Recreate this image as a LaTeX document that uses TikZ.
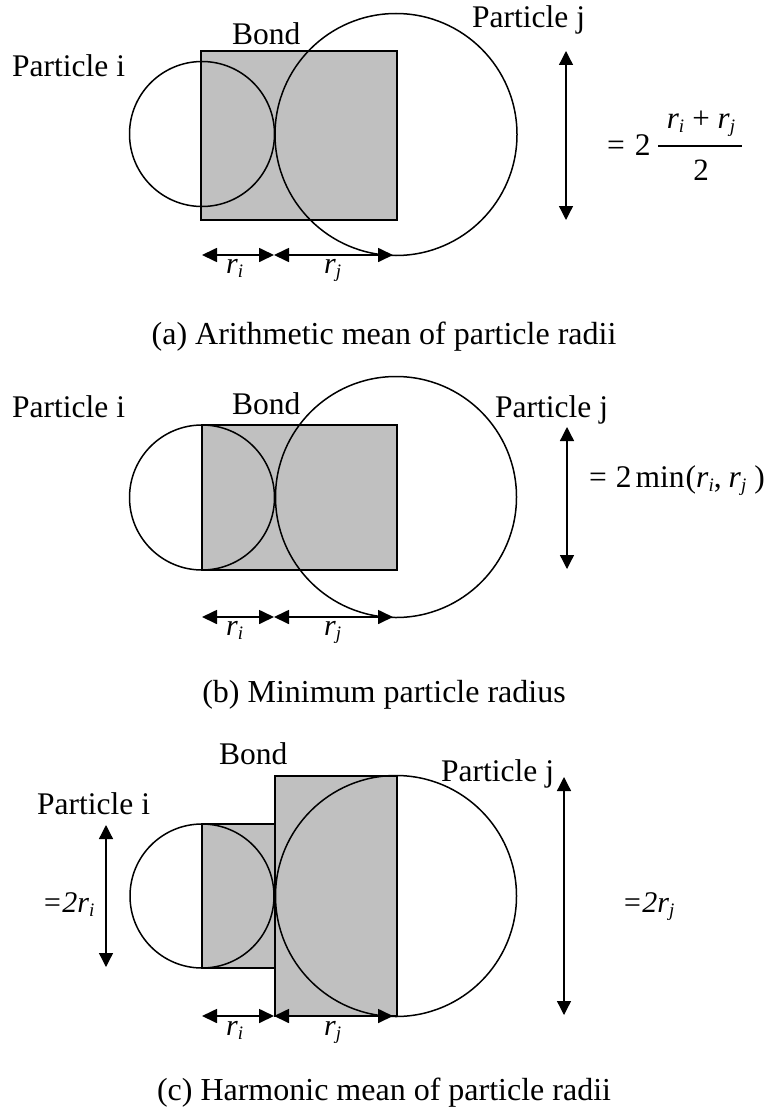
\documentclass[tikz,border=0pt]{standalone}
\usepackage{fontspec}
\setmainfont{Liberation Serif}
\usetikzlibrary{arrows.meta}
\tikzset{
  lbl/.style={inner sep=0pt, anchor=base west, font=\fontsize{31.5}{36}\selectfont},
  rlbl/.style={inner sep=0pt, anchor=base west, font=\fontsize{30}{34}\selectfont},
  mid/.style={inner sep=0pt, anchor=base, font=\fontsize{31}{36}\selectfont},
  captext/.style={inner sep=0pt, anchor=base, font=\fontsize{32}{38}\selectfont},
  bondrect/.style={fill={rgb,255:red,192;green,192;blue,192}, draw=black, line width=1.2pt},
  particle/.style={draw=black, line width=1.5pt},
  harr/.style={line width=1.7pt, {Triangle[length=15pt,width=14pt]}-{Triangle[length=15pt,width=14pt]}},
  varr/.style={line width=1.3pt, {Triangle[length=14pt,width=14pt]}-{Triangle[length=14pt,width=14pt]}}
}
\newcommand{\sub}[1]{\raisebox{-0.14em}{\fontsize{19}{20}\selectfont\itshape #1}}
\newcommand{\ri}{\textit{r}\sub{i}}
\newcommand{\rj}{\textit{r}\sub{j}}
\begin{document}
\begin{tikzpicture}[x=1pt,y=-1pt]
\useasboundingbox (0,0) rectangle (777,1108);
% ---------------- (a) ----------------
\draw[bondrect] (201,51) rectangle (397,220);
\draw[particle] (202,134) circle[radius=72.5];
\draw[particle] (396,134.5) circle[radius=121];
\node[lbl] (ai) at (12,77) {Particle i};
\node[lbl] (ab) at (232,45) {Bond};
\node[lbl] (aj) at (472,28) {Particle j};
\coordinate (av1) at (566,51);
\coordinate (av2) at (566,220);
\draw[varr] (av1) -- (av2);
\node[lbl] (af) at (607,155) {=\hspace{10pt}2};
\node[mid] (anum) at (701,128) {\ri\hspace{8pt}+\hspace{8pt}\rj};
\coordinate (abar1) at (658,146);
\coordinate (abar2) at (742,146);
\draw[line width=1.3pt] (abar1) -- (abar2);
\node[mid] (aden) at (701,180) {2};
\coordinate (ah1) at (202,255);
\coordinate (ah2) at (274,255);
\coordinate (ah3) at (274,255);
\coordinate (ah4) at (393,255);
\draw[harr] (ah1) -- (ah2);
\draw[harr] (ah3) -- (ah4);
\node[rlbl] (ari) at (226,273) {\ri};
\node[rlbl] (arj) at (324,273) {\rj};
\node[captext] (acap) at (384,344) {(a) Arithmetic mean of particle radii};
% ---------------- (b) ----------------
\draw[bondrect] (202,425) rectangle (397,570);
\draw[particle] (202,497.5) circle[radius=72.5];
\draw[particle] (396,497) circle[radius=120.5];
\node[lbl] (bi) at (12,417) {Particle i};
\node[lbl] (bb) at (232,414) {Bond};
\node[lbl] (bj) at (495,417) {Particle j};
\coordinate (bv1) at (567,427);
\coordinate (bv2) at (567,569);
\draw[varr] (bv1) -- (bv2);
\node[lbl] (bf) at (589,487) {=\hspace{9pt}2\hspace{4pt}min\hspace{1pt}(\ri,\hspace{7pt}\rj\hspace{8pt})};
\coordinate (bh1) at (202,617);
\coordinate (bh2) at (274,617);
\coordinate (bh3) at (274,617);
\coordinate (bh4) at (393,617);
\draw[harr] (bh1) -- (bh2);
\draw[harr] (bh3) -- (bh4);
\node[rlbl] (bri) at (226,635) {\ri};
\node[rlbl] (brj) at (324,635) {\rj};
\node[captext] (bcap) at (384,702) {(b) Minimum particle radius};
% ---------------- (c) ----------------
\draw[bondrect] (202,824) rectangle (275,968);
\draw[bondrect] (275,776) rectangle (397,1016);
\draw[particle] (202,896) circle[radius=72];
\draw[particle] (396,896) circle[radius=120.5];
\node[lbl] (cb) at (219,764) {Bond};
\node[lbl] (ci) at (37,814) {Particle i};
\node[lbl] (cj) at (441,781) {Particle j};
\coordinate (cl1) at (106,825);
\coordinate (cl2) at (106,967);
\draw[varr] (cl1) -- (cl2);
\coordinate (cr1) at (564,777);
\coordinate (cr2) at (564,1015);
\draw[varr] (cr1) -- (cr2);
\node[rlbl] (cfi) at (42,912) {\itshape =2r\sub{i}};
\node[rlbl] (cfj) at (622,912) {\itshape =2r\sub{j}};
\coordinate (ch1) at (202,1016);
\coordinate (ch2) at (274,1016);
\coordinate (ch3) at (274,1016);
\coordinate (ch4) at (393,1016);
\draw[harr] (ch1) -- (ch2);
\draw[harr] (ch3) -- (ch4);
\node[rlbl] (cri) at (226,1035) {\ri};
\node[rlbl] (crj) at (324,1035) {\rj};
\node[captext] (ccap) at (384,1100) {(c) Harmonic mean of particle radii};
\end{tikzpicture}
\end{document}
